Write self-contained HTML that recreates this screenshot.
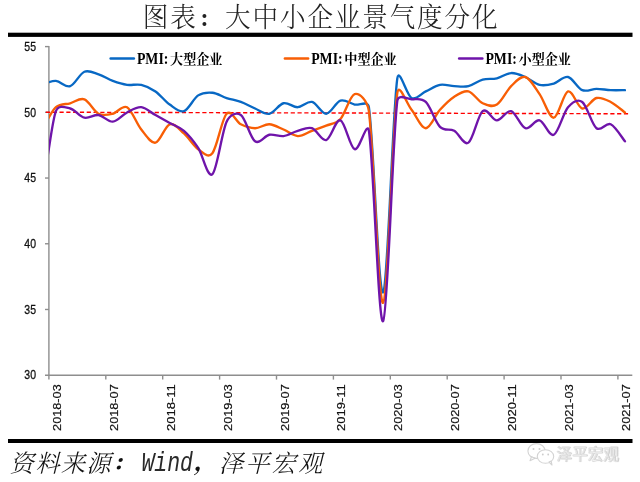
<!DOCTYPE html>
<html lang="zh"><head><meta charset="utf-8"><title>图表：大中小企业景气度分化</title>
<style>
html,body{margin:0;padding:0;background:#fff;}
body{width:640px;height:482px;overflow:hidden;position:relative;}
svg{position:absolute;left:0;top:0;display:block;}
.kai{font-family:"Liberation Serif","Noto Serif CJK SC",serif;font-weight:300;}
.ax{font-family:"Liberation Sans",sans-serif;fill:#111;}
.lg{font-family:"Liberation Serif","Noto Serif CJK SC",serif;font-weight:700;fill:#000;}
.wm{font-family:"Liberation Sans","Noto Sans CJK SC",sans-serif;}
</style></head><body>
<svg width="640" height="482" viewBox="0 0 640 482">
<defs><clipPath id="plot"><rect x="49" y="40" width="585" height="336"/></clipPath></defs>
<rect x="0" y="0" width="640" height="482" fill="#fff"/>
<text class="kai" x="321.1" y="0" transform="translate(0,26.7) scale(1,1.06)" font-size="25.6" letter-spacing="1.84" text-anchor="middle" fill="#222" font-weight="400">图表<tspan font-size="19" font-weight="900" dx="1.2">：</tspan><tspan dx="5.4">大</tspan>中小企业景气度分化</text>
<rect x="8" y="32.7" width="624.5" height="4.2" fill="#000"/>
<rect x="8" y="439" width="624.5" height="4" fill="#000"/>
<g stroke="#8e8e8e" stroke-width="1.4" fill="none">
<line x1="48.9" y1="46" x2="48.9" y2="379.6"/>
<line x1="45" y1="375.2" x2="632.3" y2="375.2"/>
<line x1="45" y1="46.60" x2="49" y2="46.60"/>
<line x1="45" y1="112.32" x2="49" y2="112.32"/>
<line x1="45" y1="178.04" x2="49" y2="178.04"/>
<line x1="45" y1="243.76" x2="49" y2="243.76"/>
<line x1="45" y1="309.48" x2="49" y2="309.48"/>
<line x1="105.80" y1="375" x2="105.80" y2="379.6"/>
<line x1="162.70" y1="375" x2="162.70" y2="379.6"/>
<line x1="219.60" y1="375" x2="219.60" y2="379.6"/>
<line x1="276.50" y1="375" x2="276.50" y2="379.6"/>
<line x1="333.40" y1="375" x2="333.40" y2="379.6"/>
<line x1="390.30" y1="375" x2="390.30" y2="379.6"/>
<line x1="447.20" y1="375" x2="447.20" y2="379.6"/>
<line x1="504.10" y1="375" x2="504.10" y2="379.6"/>
<line x1="561.00" y1="375" x2="561.00" y2="379.6"/>
<line x1="617.90" y1="375" x2="617.90" y2="379.6"/>
</g>
<text class="ax" x="36" y="0.00" font-size="10.5" text-anchor="end" stroke="#111" stroke-width="0.25" transform="translate(0,50.90) scale(1,1.17) translate(0,0.00)">55</text>
<text class="ax" x="36" y="0.00" font-size="10.5" text-anchor="end" stroke="#111" stroke-width="0.25" transform="translate(0,116.60) scale(1,1.17) translate(0,0.00)">50</text>
<text class="ax" x="36" y="0.00" font-size="10.5" text-anchor="end" stroke="#111" stroke-width="0.25" transform="translate(0,182.30) scale(1,1.17) translate(0,0.00)">45</text>
<text class="ax" x="36" y="0.00" font-size="10.5" text-anchor="end" stroke="#111" stroke-width="0.25" transform="translate(0,248.00) scale(1,1.17) translate(0,0.00)">40</text>
<text class="ax" x="36" y="0.00" font-size="10.5" text-anchor="end" stroke="#111" stroke-width="0.25" transform="translate(0,313.70) scale(1,1.17) translate(0,0.00)">35</text>
<text class="ax" x="36" y="0.00" font-size="10.5" text-anchor="end" stroke="#111" stroke-width="0.25" transform="translate(0,379.40) scale(1,1.17) translate(0,0.00)">30</text>
<text class="ax" font-size="11.4" text-anchor="end" textLength="46.6" lengthAdjust="spacingAndGlyphs" stroke="#111" stroke-width="0.2" transform="translate(60.91,384.3) rotate(-90)">2018-03</text>
<text class="ax" font-size="11.4" text-anchor="end" textLength="46.6" lengthAdjust="spacingAndGlyphs" stroke="#111" stroke-width="0.2" transform="translate(117.81,384.3) rotate(-90)">2018-07</text>
<text class="ax" font-size="11.4" text-anchor="end" textLength="46.6" lengthAdjust="spacingAndGlyphs" stroke="#111" stroke-width="0.2" transform="translate(174.71,384.3) rotate(-90)">2018-11</text>
<text class="ax" font-size="11.4" text-anchor="end" textLength="46.6" lengthAdjust="spacingAndGlyphs" stroke="#111" stroke-width="0.2" transform="translate(231.61,384.3) rotate(-90)">2019-03</text>
<text class="ax" font-size="11.4" text-anchor="end" textLength="46.6" lengthAdjust="spacingAndGlyphs" stroke="#111" stroke-width="0.2" transform="translate(288.51,384.3) rotate(-90)">2019-07</text>
<text class="ax" font-size="11.4" text-anchor="end" textLength="46.6" lengthAdjust="spacingAndGlyphs" stroke="#111" stroke-width="0.2" transform="translate(345.41,384.3) rotate(-90)">2019-11</text>
<text class="ax" font-size="11.4" text-anchor="end" textLength="46.6" lengthAdjust="spacingAndGlyphs" stroke="#111" stroke-width="0.2" transform="translate(402.31,384.3) rotate(-90)">2020-03</text>
<text class="ax" font-size="11.4" text-anchor="end" textLength="46.6" lengthAdjust="spacingAndGlyphs" stroke="#111" stroke-width="0.2" transform="translate(459.21,384.3) rotate(-90)">2020-07</text>
<text class="ax" font-size="11.4" text-anchor="end" textLength="46.6" lengthAdjust="spacingAndGlyphs" stroke="#111" stroke-width="0.2" transform="translate(516.11,384.3) rotate(-90)">2020-11</text>
<text class="ax" font-size="11.4" text-anchor="end" textLength="46.6" lengthAdjust="spacingAndGlyphs" stroke="#111" stroke-width="0.2" transform="translate(573.01,384.3) rotate(-90)">2021-03</text>
<text class="ax" font-size="11.4" text-anchor="end" textLength="46.6" lengthAdjust="spacingAndGlyphs" stroke="#111" stroke-width="0.2" transform="translate(629.91,384.3) rotate(-90)">2021-07</text>
<line x1="45.9" y1="112.2" x2="629.8" y2="113.8" stroke="#FF0000" stroke-width="1.4" stroke-dasharray="4.2,2.6"/>
<g clip-path="url(#plot)" fill="none" stroke-width="2.35" stroke-linejoin="round" stroke-linecap="round">
<path stroke="#0868C4" d="M27.48,78.31 C29.85,79.19 36.96,83.13 41.70,83.56 C46.44,84.00 51.18,80.50 55.92,80.94 C60.67,81.38 65.41,87.72 70.15,86.19 C74.89,84.66 79.63,73.72 84.38,71.75 C89.12,69.78 93.86,72.84 98.60,74.37 C103.34,75.90 108.08,79.19 112.82,80.94 C117.57,82.69 122.31,84.22 127.05,84.88 C131.79,85.53 136.53,83.78 141.28,84.88 C146.02,85.97 150.76,88.16 155.50,91.44 C160.24,94.72 164.98,101.29 169.72,104.57 C174.47,107.85 179.21,112.67 183.95,111.14 C188.69,109.61 193.43,98.44 198.17,95.38 C202.92,92.32 207.66,92.32 212.40,92.75 C217.14,93.19 221.88,96.48 226.62,98.01 C231.37,99.54 236.11,100.20 240.85,101.95 C245.59,103.70 250.33,106.54 255.07,108.51 C259.82,110.48 264.56,114.64 269.30,113.76 C274.04,112.89 278.78,104.35 283.53,103.26 C288.27,102.16 293.01,107.42 297.75,107.20 C302.49,106.98 307.23,100.85 311.98,101.95 C316.72,103.04 321.46,113.98 326.20,113.76 C330.94,113.54 335.68,102.16 340.43,100.63 C345.17,99.10 349.91,103.48 354.65,104.57 C359.39,105.67 367.79,100.05 368.88,107.20 C373.62,138.49 378.36,297.15 383.10,292.33 C387.84,287.52 392.58,110.70 397.32,78.31 C399.08,66.29 406.81,95.82 411.55,98.01 C416.29,100.20 421.03,93.63 425.78,91.44 C430.52,89.25 435.26,85.75 440.00,84.88 C444.74,84.00 449.48,85.97 454.23,86.19 C458.97,86.41 463.71,87.28 468.45,86.19 C473.19,85.10 477.93,80.94 482.68,79.62 C487.42,78.31 492.16,79.41 496.90,78.31 C501.64,77.22 506.38,73.28 511.12,73.06 C515.87,72.84 520.61,75.03 525.35,77.00 C530.09,78.97 534.83,83.78 539.58,84.88 C544.32,85.97 549.06,84.88 553.80,83.56 C558.54,82.25 563.28,75.90 568.02,77.00 C572.77,78.09 577.51,88.16 582.25,90.13 C586.99,92.10 591.73,88.82 596.48,88.82 C601.22,88.82 605.96,89.91 610.70,90.13 C615.44,90.35 622.55,90.13 624.92,90.13"/>
<path stroke="#F85E05" d="M27.48,111.14 C29.85,113.54 36.96,126.24 41.70,125.58 C46.44,124.92 51.18,110.92 55.92,107.20 C60.67,103.48 65.41,104.57 70.15,103.26 C74.89,101.95 79.63,97.57 84.38,99.32 C89.12,101.07 93.86,111.36 98.60,113.76 C103.34,116.17 108.08,114.86 112.82,113.76 C117.57,112.67 122.31,104.57 127.05,107.20 C131.79,109.82 136.53,123.61 141.28,129.52 C146.02,135.43 150.76,143.52 155.50,142.65 C160.24,141.77 164.98,125.80 169.72,124.27 C174.47,122.74 179.21,129.30 183.95,133.46 C188.69,137.62 193.43,145.93 198.17,149.21 C202.92,152.50 207.78,158.91 212.40,153.15 C217.14,147.24 221.88,118.58 226.62,113.76 C231.37,108.95 236.11,121.86 240.85,124.27 C245.59,126.67 250.33,128.21 255.07,128.21 C259.82,128.21 264.56,124.05 269.30,124.27 C274.04,124.49 278.78,127.55 283.53,129.52 C288.27,131.49 293.01,135.87 297.75,136.08 C302.49,136.30 307.23,132.58 311.98,130.83 C316.72,129.08 321.46,127.55 326.20,125.58 C330.94,123.61 335.68,124.27 340.43,119.02 C345.17,113.76 349.91,95.38 354.65,94.07 C359.39,92.76 367.37,100.13 368.88,111.14 C373.62,145.93 378.36,305.90 383.10,302.84 C387.84,299.77 392.58,124.92 397.32,92.75 C398.95,81.76 406.81,103.92 411.55,109.82 C416.29,115.73 421.03,128.21 425.78,128.21 C430.52,128.21 435.26,115.08 440.00,109.82 C444.74,104.57 449.48,99.76 454.23,96.69 C458.97,93.63 463.71,90.35 468.45,91.44 C473.19,92.54 477.93,101.07 482.68,103.26 C487.42,105.45 492.16,107.42 496.90,104.57 C501.64,101.73 506.38,90.79 511.12,86.19 C515.87,81.59 520.61,75.69 525.35,77.00 C530.09,78.31 534.83,87.28 539.58,94.07 C544.32,100.85 549.06,118.14 553.80,117.70 C558.54,117.26 563.28,92.97 568.02,91.44 C572.77,89.91 577.51,107.42 582.25,108.51 C586.99,109.61 591.73,99.10 596.48,98.01 C601.22,96.91 605.96,99.54 610.70,101.95 C615.44,104.35 622.55,110.70 624.92,112.45"/>
<path stroke="#6F14AA" d="M27.48,132.14 C29.85,140.24 36.96,184.23 41.70,180.73 C46.44,177.22 51.18,123.17 55.92,111.14 C58.58,104.41 65.41,107.42 70.15,108.51 C74.89,109.61 79.63,116.61 84.38,117.70 C89.12,118.80 93.86,114.42 98.60,115.08 C103.34,115.73 108.08,122.08 112.82,121.64 C117.57,121.20 122.31,114.86 127.05,112.45 C131.79,110.04 136.53,106.76 141.28,107.20 C146.02,107.64 150.76,112.45 155.50,115.08 C160.24,117.70 164.98,120.33 169.72,122.95 C174.47,125.58 179.21,126.67 183.95,130.83 C188.69,134.99 193.43,140.68 198.17,147.90 C202.92,155.12 207.66,178.54 212.40,174.16 C217.14,169.78 221.88,131.49 226.62,121.64 C230.02,114.58 236.11,111.79 240.85,115.08 C245.59,118.36 250.33,138.05 255.07,141.34 C259.82,144.62 264.56,135.65 269.30,134.77 C274.04,133.90 278.78,136.74 283.53,136.08 C288.27,135.43 293.01,132.14 297.75,130.83 C302.49,129.52 307.23,126.67 311.98,128.21 C316.72,129.74 321.46,141.34 326.20,140.02 C330.94,138.71 335.68,118.80 340.43,120.33 C345.17,121.86 349.91,147.46 354.65,149.21 C359.39,150.96 366.98,119.37 368.88,130.83 C373.62,159.50 378.36,326.25 383.10,321.22 C387.84,316.18 392.58,137.62 397.32,100.63 C398.23,93.55 406.81,99.10 411.55,99.32 C416.29,99.54 421.03,97.35 425.78,101.95 C430.52,106.54 435.26,122.08 440.00,126.89 C444.74,131.71 449.48,128.21 454.23,130.83 C458.97,133.46 463.71,145.93 468.45,142.65 C473.19,139.37 477.93,114.86 482.68,111.14 C487.42,107.42 492.16,120.33 496.90,120.33 C501.64,120.33 506.38,109.82 511.12,111.14 C515.87,112.45 520.61,126.67 525.35,128.21 C530.09,129.74 534.83,119.23 539.58,120.33 C544.32,121.42 549.06,136.96 553.80,134.77 C558.54,132.58 563.28,112.67 568.02,107.20 C572.77,101.73 577.51,98.44 582.25,101.95 C586.99,105.45 591.73,124.49 596.48,128.21 C601.22,131.93 605.96,122.08 610.70,124.27 C615.44,126.46 622.55,138.49 624.92,141.34"/>
</g>
<line x1="110.60" y1="58.55" x2="133.90" y2="58.55" stroke="#0868C4" stroke-width="2.4" stroke-linecap="round"/>
<text class="lg" x="136.90" y="64.2" font-size="17.4" textLength="31.5" lengthAdjust="spacingAndGlyphs">PMI:</text>
<text class="lg" x="170.10" y="0" font-size="13.1" transform="translate(0,63.6) scale(1,1.05)">大型企业</text>
<line x1="284.85" y1="58.55" x2="308.15" y2="58.55" stroke="#F85E05" stroke-width="2.4" stroke-linecap="round"/>
<text class="lg" x="311.15" y="64.2" font-size="17.4" textLength="31.5" lengthAdjust="spacingAndGlyphs">PMI:</text>
<text class="lg" x="344.35" y="0" font-size="13.1" transform="translate(0,63.6) scale(1,1.05)">中型企业</text>
<line x1="459.10" y1="58.55" x2="482.40" y2="58.55" stroke="#6F14AA" stroke-width="2.4" stroke-linecap="round"/>
<text class="lg" x="485.40" y="64.2" font-size="17.4" textLength="31.5" lengthAdjust="spacingAndGlyphs">PMI:</text>
<text class="lg" x="518.60" y="0" font-size="13.1" transform="translate(0,63.6) scale(1,1.05)">小型企业</text>
<g class="kai" font-size="24.4" font-style="italic" fill="#111" letter-spacing="1.2">
<text x="9.6" y="471.5">资料来源<tspan font-weight="900" font-size="20" dx="0.6" dy="-2">：</tspan></text>
<text x="141.5" y="471.2" font-family="Liberation Mono,monospace" font-size="28" letter-spacing="0" fill="#2a2a2a" textLength="51.5" lengthAdjust="spacingAndGlyphs">Wind</text>
<text x="193.2" y="471.5" letter-spacing="2"><tspan font-weight="900" font-size="22" dx="1" dy="-2">，</tspan><tspan dx="0.6" dy="2">泽</tspan>平宏观</text>
</g>
<g class="wm" opacity="0.9">
<g fill="#fff" stroke="#cfcfcf" stroke-width="1.1">
<ellipse cx="536.5" cy="451" rx="8.6" ry="7.4"/>
<path d="M531.5,456.8 L530,460.8 L535,458.2 Z" stroke-linejoin="round"/>
<ellipse cx="545.5" cy="456.5" rx="8.2" ry="6.8"/>
<path d="M549,462 L552,465 L551.2,461 Z" stroke-linejoin="round"/>
</g>
<g fill="#c8c8c8"><circle cx="533.5" cy="449" r="1"/><circle cx="539.5" cy="449" r="1"/><circle cx="542.8" cy="454.5" r="0.9"/><circle cx="548.2" cy="454.5" r="0.9"/></g>
<text x="556.3" y="459.6" font-size="15.6" fill="#fff" stroke="#d6d6d6" stroke-width="0.4" style="text-shadow:0.8px 0.8px 0.7px #c2c2c2">泽平宏观</text>
</g>
</svg>
</body></html>
